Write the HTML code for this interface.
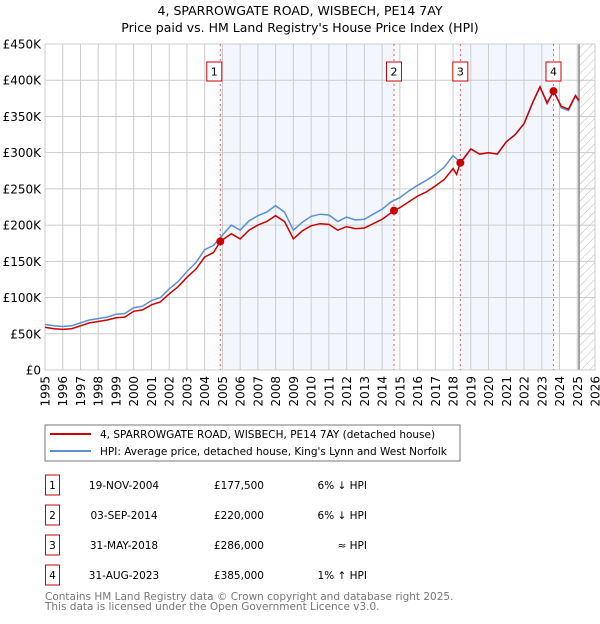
<!DOCTYPE html>
<html><head><meta charset="utf-8"><style>
body{margin:0;background:#fff;font-family:"DejaVu Sans","Liberation Sans",sans-serif;}
svg text{font-family:"DejaVu Sans","Liberation Sans",sans-serif;}
</style></head><body>
<svg id="c" width="600" height="620" xmlns="http://www.w3.org/2000/svg">
<defs><pattern id="hatch" width="6" height="6" patternUnits="userSpaceOnUse" patternTransform="rotate(45)"><line x1="0" y1="0" x2="0" y2="6" stroke="#bbb" stroke-width="1"/></pattern></defs>
<text x="300" y="15" text-anchor="middle" font-size="12.5">4, SPARROWGATE ROAD, WISBECH, PE14 7AY</text>
<text x="300" y="32" text-anchor="middle" font-size="12.5">Price paid vs. HM Land Registry's House Price Index (HPI)</text>
<g id="plot"></g>
<rect x="45" y="425" width="415" height="36" fill="#fff" stroke="#777"/>
<line x1="50" y1="434" x2="91" y2="434" stroke="#cc0000" stroke-width="2"/>
<text x="100" y="438" font-size="10.5">4, SPARROWGATE ROAD, WISBECH, PE14 7AY (detached house)</text>
<line x1="50" y1="451" x2="91" y2="451" stroke="#5b8fd4" stroke-width="2"/>
<text x="100" y="455" font-size="10.5">HPI: Average price, detached house, King's Lynn and West Norfolk</text>
<g id="table"></g>
<text x="45" y="600" font-size="10.5" fill="#777">Contains HM Land Registry data © Crown copyright and database right 2025.</text>
<text x="45" y="610" font-size="10.5" fill="#777">This data is licensed under the Open Government Licence v3.0.</text>
</svg>
<script>
const hpiYears=[1995,1995.5,1996,1996.5,1997,1997.5,1998,1998.5,1999,1999.5,2000,2000.5,2001,2001.5,2002,2002.5,2003,2003.5,2004,2004.5,2005,2005.5,2006,2006.5,2007,2007.5,2008,2008.5,2009,2009.5,2010,2010.5,2011,2011.5,2012,2012.5,2013,2013.5,2014,2014.5,2015,2015.5,2016,2016.5,2017,2017.5,2018,2018.3,2018.6,2019,2019.5,2020,2020.5,2021,2021.5,2022,2022.5,2022.9,2023.3,2023.7,2024.1,2024.5,2024.9,2025.1];
const hpiValues=[63,61,60,61,65,69,71,73,77,78,86,88,96,100,112,122,136,148,166,172,186,200,193,206,213,218,227,218,193,204,212,215,214,205,211,207,208,215,222,232,238,247,255,262,270,280,296,289,291,305,298,300,298,315,325,340,370,390,370,385,362,358,378,370];
const priceYears=[1995,1995.5,1996,1996.5,1997,1997.5,1998,1998.5,1999,1999.5,2000,2000.5,2001,2001.5,2002,2002.5,2003,2003.5,2004,2004.5,2004.88,2005.5,2006,2006.5,2007,2007.5,2008,2008.5,2009,2009.5,2010,2010.5,2011,2011.5,2012,2012.5,2013,2013.5,2014,2014.67,2015,2015.5,2016,2016.5,2017,2017.5,2018,2018.2,2018.41,2019,2019.5,2020,2020.5,2021,2021.5,2022,2022.5,2022.9,2023.3,2023.66,2024.1,2024.5,2024.9,2025.1];
const priceValues=[59,57,56,57,61,65,67,69,72,73,81,83,90,94,105,115,128,139,156,162,177.5,188,181,193,200,205,213,205,181,192,199,202,201,193,198,195,196,202,208,220,224,232,240,246,254,263,278,270,286,305,298,300,298,315,325,340,370,391,368,385,364,360,379,372];
const saleLabels=["1","2","3","4"];
const saleYears=[2004.88,2014.67,2018.41,2023.66];
const salePrices=[177.5,220,286,385];
const saleDates=["19-NOV-2004","03-SEP-2014","31-MAY-2018","31-AUG-2023"];
const salePriceText=["£177,500","£220,000","£286,000","£385,000"];
const saleHpiText=["6% ↓ HPI","6% ↓ HPI","≈ HPI","1% ↑ HPI"];
const yTicks=[0,50,100,150,200,250,300,350,400,450];
const yTickLabels=["£0","£50K","£100K","£150K","£200K","£250K","£300K","£350K","£400K","£450K"];
const xTicks=[1995,1996,1997,1998,1999,2000,2001,2002,2003,2004,2005,2006,2007,2008,2009,2010,2011,2012,2013,2014,2015,2016,2017,2018,2019,2020,2021,2022,2023,2024,2025,2026];
const dataEnd=2025.1;

const L=45,R=595,T=44,B=370;
const X=y=>L+(y-1995)*(R-L)/31;
const Y=v=>B-v*(B-T)/450;
const NS="http://www.w3.org/2000/svg";
const plot=document.getElementById('plot');
function mk(tag,attrs,parent){const e=document.createElementNS(NS,tag);for(const k in attrs)e.setAttribute(k,attrs[k]);(parent||plot).appendChild(e);return e;}

let e;
e=mk('rect',{x:X(saleYears[0]),y:T,width:X(saleYears[1])-X(saleYears[0]),height:B-T,fill:'#eef3fc',opacity:0.7});


e=mk('rect',{x:X(saleYears[2]),y:T,width:X(saleYears[3])-X(saleYears[2]),height:B-T,fill:'#eef3fc',opacity:0.7});


e=mk('rect',{x:X(dataEnd),y:T,width:R-X(dataEnd),height:B-T,fill:'url(#hatch)'});



yTicks.forEach((t,i)=>{
  e=mk('line',{x1:L,x2:R,y1:Y(t),y2:Y(t),stroke:'#ccc','stroke-width':1});
  
  
  e=mk('text',{x:L-4,y:Y(t)+4.5,'text-anchor':'end','font-size':12});
  e.textContent=yTickLabels[i];
  
  
});
xTicks.forEach(t=>{
  e=mk('line',{x1:X(t),x2:X(t),y1:T,y2:B,stroke:'#ccc','stroke-width':1});
  
  
  e=mk('text',{x:0,y:0,'text-anchor':'end','font-size':12,transform:`translate(${X(t)+4.5},${B+6}) rotate(-90)`});
  e.textContent=t;
  
  
});
e=mk('line',{x1:X(dataEnd),x2:X(dataEnd),y1:T,y2:B,stroke:'#888','stroke-width':1.5});


e=mk('rect',{x:L,y:T,width:R-L,height:B-T,fill:'none',stroke:'#ccc'});



saleYears.forEach((s,i)=>{
  e=mk('line',{x1:X(s),x2:X(s),y1:T,y2:B,stroke:'#e06060','stroke-width':1,'stroke-dasharray':'2,3'});
  
  
});

const pts=(xs,vs)=>xs.map((x,i)=>X(x).toFixed(1)+','+Y(vs[i]).toFixed(1)).join(' ');
e=mk('polyline',{points:pts(hpiYears,hpiValues),fill:'none',stroke:'#5b8fd4','stroke-width':1.5});


e=mk('polyline',{points:pts(priceYears,priceValues),fill:'none',stroke:'#cc0000','stroke-width':1.5});



saleYears.forEach((s,i)=>{
  e=mk('circle',{cx:X(s),cy:Y(salePrices[i]),r:4,fill:'#cc0000'});
  
  
  const bx=X(s)-7.5;
  e=mk('rect',{x:bx-(i==0?6:0),y:62,width:15,height:19,fill:'#fff',stroke:'#cc0000'});
  
  
  e=mk('text',{x:X(s)-(i==0?6:0),y:75.5,'text-anchor':'middle','font-size':11});
  e.textContent=saleLabels[i];
  
  
});

const tb=document.getElementById('table');
saleLabels.forEach((l,i)=>{
  const y=483+i*30;
  e=mk('rect',{x:45.5,y:y-8,width:14,height:20,fill:'#fff',stroke:'#cc0000'},tb);
  
  
  e=mk('text',{x:52.5,y:y+6,'text-anchor':'middle','font-size':10.5},tb);e.textContent=l;
  
  
  e=mk('text',{x:124,y:y+6,'text-anchor':'middle','font-size':10.5},tb);e.textContent=saleDates[i];
  
  
  e=mk('text',{x:264,y:y+6,'text-anchor':'end','font-size':10.5},tb);e.textContent=salePriceText[i];
  
  
  e=mk('text',{x:367,y:y+6,'text-anchor':'end','font-size':10.5},tb);e.textContent=saleHpiText[i];
  
  
});
</script>
</body></html>
